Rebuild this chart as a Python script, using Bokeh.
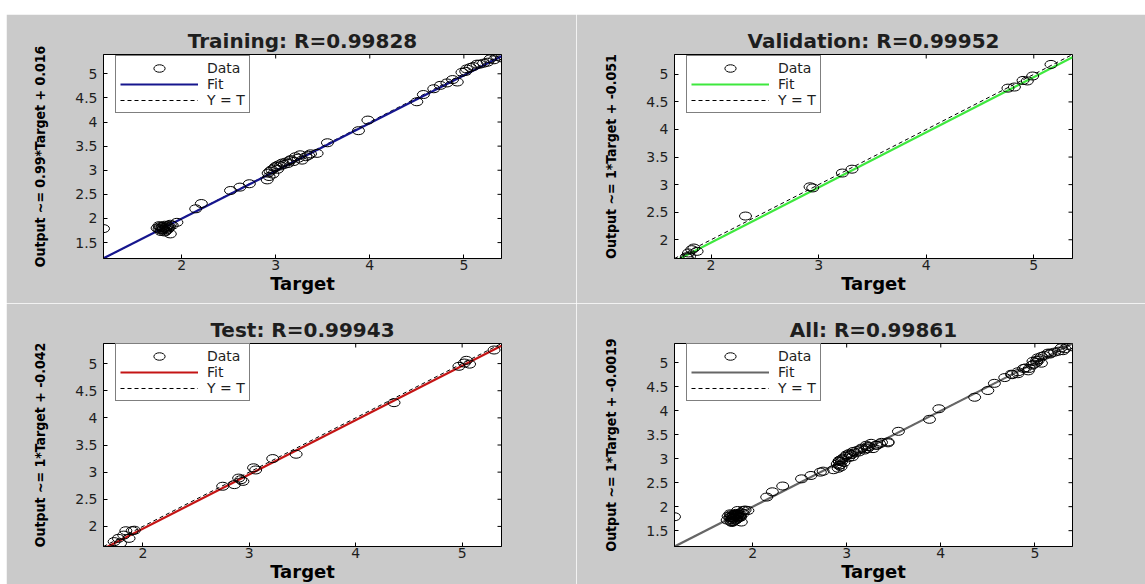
import math

from bokeh.embed import file_html
from bokeh.layouts import column, row
from bokeh.models import (FixedTicker, Legend, LegendItem, NumeralTickFormatter,
                          Spacer)
from bokeh.plotting import figure
from bokeh.resources import INLINE

# ---- regression data (target vs. network output) ----
train_target = [1.17, 1.74, 1.76, 1.77, 1.78, 1.79, 1.80, 1.80, 1.81, 1.82, 1.83,
                1.83, 1.84, 1.85, 1.85, 1.86, 1.87, 1.88, 1.78, 1.82, 1.76,
                1.88, 1.95, 1.90, 2.15, 2.21, 2.52, 2.62, 2.72, 2.91, 2.93,
                2.92, 2.94, 2.96, 2.97, 2.99, 3.00, 3.02, 3.03, 3.05, 3.07,
                3.09, 3.11, 3.13, 3.15, 3.16, 3.19, 3.21, 3.24, 3.26, 3.28,
                3.32, 3.35, 3.37, 3.44, 3.55, 3.88, 3.98, 4.50, 4.57, 4.68,
                4.75, 4.82, 4.88, 4.93, 4.98, 5.02, 5.03, 5.07, 5.10, 5.14,
                5.17, 5.21, 5.25, 5.28, 5.32, 5.35, 5.40]
train_output = [1.79, 1.80, 1.78, 1.83, 1.76, 1.81, 1.84, 1.77, 1.80, 1.86, 1.79,
                1.74, 1.82, 1.85, 1.77, 1.80, 1.83, 1.88, 1.73, 1.72, 1.85,
                1.68, 1.92, 1.86, 2.20, 2.31, 2.58, 2.65, 2.72, 2.80, 2.87,
                2.94, 2.98, 3.01, 2.92, 3.05, 3.08, 3.02, 3.11, 3.09, 3.15,
                3.12, 3.17, 3.14, 3.20, 3.22, 3.18, 3.28, 3.25, 3.32, 3.21,
                3.28, 3.31, 3.34, 3.35, 3.57, 3.82, 4.04, 4.42, 4.57, 4.69,
                4.76, 4.81, 4.88, 4.83, 5.03, 5.05, 5.10, 5.13, 5.15, 5.20,
                5.20, 5.22, 5.24, 5.31, 5.29, 5.36, 5.33]

val_target = [1.80, 1.84, 1.87, 1.79, 1.77, 1.82, 1.78, 2.32, 2.92, 2.945,
              3.22, 3.31, 4.76, 4.82, 4.90, 4.94, 4.99, 5.16]
val_output = [1.70, 1.85, 1.79, 1.76, 1.69, 1.82, 1.67, 2.43, 2.96, 2.94,
              3.21, 3.28, 4.75, 4.77, 4.89, 4.88, 4.97, 5.18]

test_target = [1.73, 1.77, 1.82, 1.84, 1.90, 1.87, 1.79, 1.92, 2.75, 2.86,
               2.90, 2.92, 2.94, 3.04, 3.06, 3.22, 3.44, 4.36, 4.97, 5.02,
               5.07, 5.04, 5.30]
test_output = [1.72, 1.78, 1.84, 1.92, 1.92, 1.78, 1.69, 1.93, 2.74, 2.77,
               2.89, 2.86, 2.83, 3.08, 3.04, 3.25, 3.33, 4.28, 4.95, 5.01,
               4.99, 5.06, 5.25]

all_target = train_target + val_target + test_target
all_output = train_output + val_output + test_output

titles = ["Training: R=0.99828", "Validation: R=0.99952",
          "Test: R=0.99943", "All: R=0.99861"]
fit_slope = [0.99, 1.0, 1.0, 1.0]
fit_intercept = [0.016, -0.051, -0.042, -0.0019]
ylabels = ["Output ~= 0.99*Target + 0.016", "Output ~= 1*Target + -0.051",
           "Output ~= 1*Target + -0.042", "Output ~= 1*Target + -0.0019"]
axis_limits = [(1.17, 5.40), (1.66, 5.36), (1.63, 5.37), (1.17, 5.40)]
x_ticks = [2, 3, 4, 5]
y_ticks_wide = [1.5, 2, 2.5, 3, 3.5, 4, 4.5, 5]
y_ticks_narrow = [2, 2.5, 3, 3.5, 4, 4.5, 5]
y_tick_sets = [y_ticks_wide, y_ticks_narrow, y_ticks_narrow, y_ticks_wide]
fit_colors = ["#16168e", "#3ee83e", "#c41414", "#666666"]

FIG_BG = "#cacaca"
TEXT = "#1e1e1e"


def make_panel(i, target, output, width, height, left, right, top, bottom):
    lo, hi = axis_limits[i]
    p = figure(width=width, height=height, x_range=(lo, hi), y_range=(lo, hi),
               output_backend="svg", toolbar_location=None,
               min_border_left=left, min_border_right=right,
               min_border_top=top, min_border_bottom=bottom)
    p.border_fill_color = FIG_BG
    p.background_fill_color = "white"
    p.outline_line_color = "black"
    p.outline_line_width = 1
    p.grid.visible = False

    p.title.text = titles[i]
    p.title.align = "center"
    p.title.text_font = "DejaVu Sans"
    p.title.text_font_style = "bold"
    p.title.text_font_size = "20px"
    p.title.text_color = TEXT
    p.title.standoff = 4

    for ax in (p.xaxis[0], p.yaxis[0]):
        ax.major_tick_in = 4
        ax.major_tick_out = 0
        ax.minor_tick_line_color = None
        ax.axis_line_color = "black"
        ax.major_tick_line_color = "black"
        ax.major_label_text_font = "DejaVu Sans"
        ax.major_label_text_font_size = "14px"
        ax.major_label_text_color = TEXT
        ax.formatter = NumeralTickFormatter(format="0.[0]")
        ax.axis_label_text_color = "black"
        ax.axis_label_text_font_style = "bold"

    p.xaxis[0].ticker = FixedTicker(ticks=x_ticks)
    p.xaxis[0].axis_label = "Target"
    p.xaxis[0].axis_label_text_font = "DejaVu Sans"
    p.xaxis[0].axis_label_text_font_size = "18px"
    p.xaxis[0].major_label_standoff = 1
    p.xaxis[0].axis_label_standoff = 0

    yticks = y_tick_sets[i]
    p.yaxis[0].ticker = FixedTicker(ticks=yticks)
    p.yaxis[0].axis_label = ylabels[i]
    p.yaxis[0].axis_label_text_font = "DejaVu Sans Condensed"
    p.yaxis[0].axis_label_text_font_size = "14px"
    p.yaxis[0].major_label_standoff = 6
    p.yaxis[0].axis_label_standoff = 24

    # reference line, fit line and data circles
    r_id = p.line([lo, hi], [lo, hi], line_color="black", line_width=1,
                  line_dash="4 3")
    a, b = fit_slope[i], fit_intercept[i]
    r_fit = p.line([lo, hi], [a * lo + b, a * hi + b],
                   line_color=fit_colors[i], line_width=2.2)
    r_data = p.ellipse(target, output, width=12, height=8,
                       width_units="screen", height_units="screen",
                       fill_color=None, line_color="black", line_width=1)

    # inward ticks mirrored on the top and right edges of the box
    p.scatter(x_ticks, [hi] * len(x_ticks), marker="dash", size=8,
              angle=math.pi / 2, line_color="black")
    p.scatter([hi] * len(yticks), yticks, marker="dash", size=8,
              line_color="black")

    legend = Legend(items=[LegendItem(label="Data", renderers=[r_data]),
                           LegendItem(label="Fit", renderers=[r_fit]),
                           LegendItem(label="Y = T", renderers=[r_id])],
                    location=(12, 145))
    legend.border_line_color = "black"
    legend.border_line_width = 1.5
    legend.background_fill_color = "white"
    legend.background_fill_alpha = 1
    legend.label_text_font = "DejaVu Sans"
    legend.label_text_font_size = "14px"
    legend.label_text_color = TEXT
    legend.glyph_width = 78
    legend.glyph_height = 14
    legend.label_height = 14
    legend.label_standoff = 9
    legend.spacing = 0
    legend.padding = 4
    legend.margin = 0
    p.add_layout(legend)
    return p


p1 = make_panel(0, train_target, train_output, 570, 289, 97, 75, 40, 45)
p2 = make_panel(1, val_target, val_output, 569, 289, 98, 73, 40, 45)
p3 = make_panel(2, test_target, test_output, 570, 281, 97, 75, 40, 37)
p4 = make_panel(3, all_target, all_output, 569, 281, 98, 73, 40, 37)

grid = column(row(p1, p2), row(p3, p4))
page = column(Spacer(width=1139, height=14),
              row(Spacer(width=6, height=570), grid))

with open("out.html", "w") as f:
    f.write(file_html(page, INLINE))
